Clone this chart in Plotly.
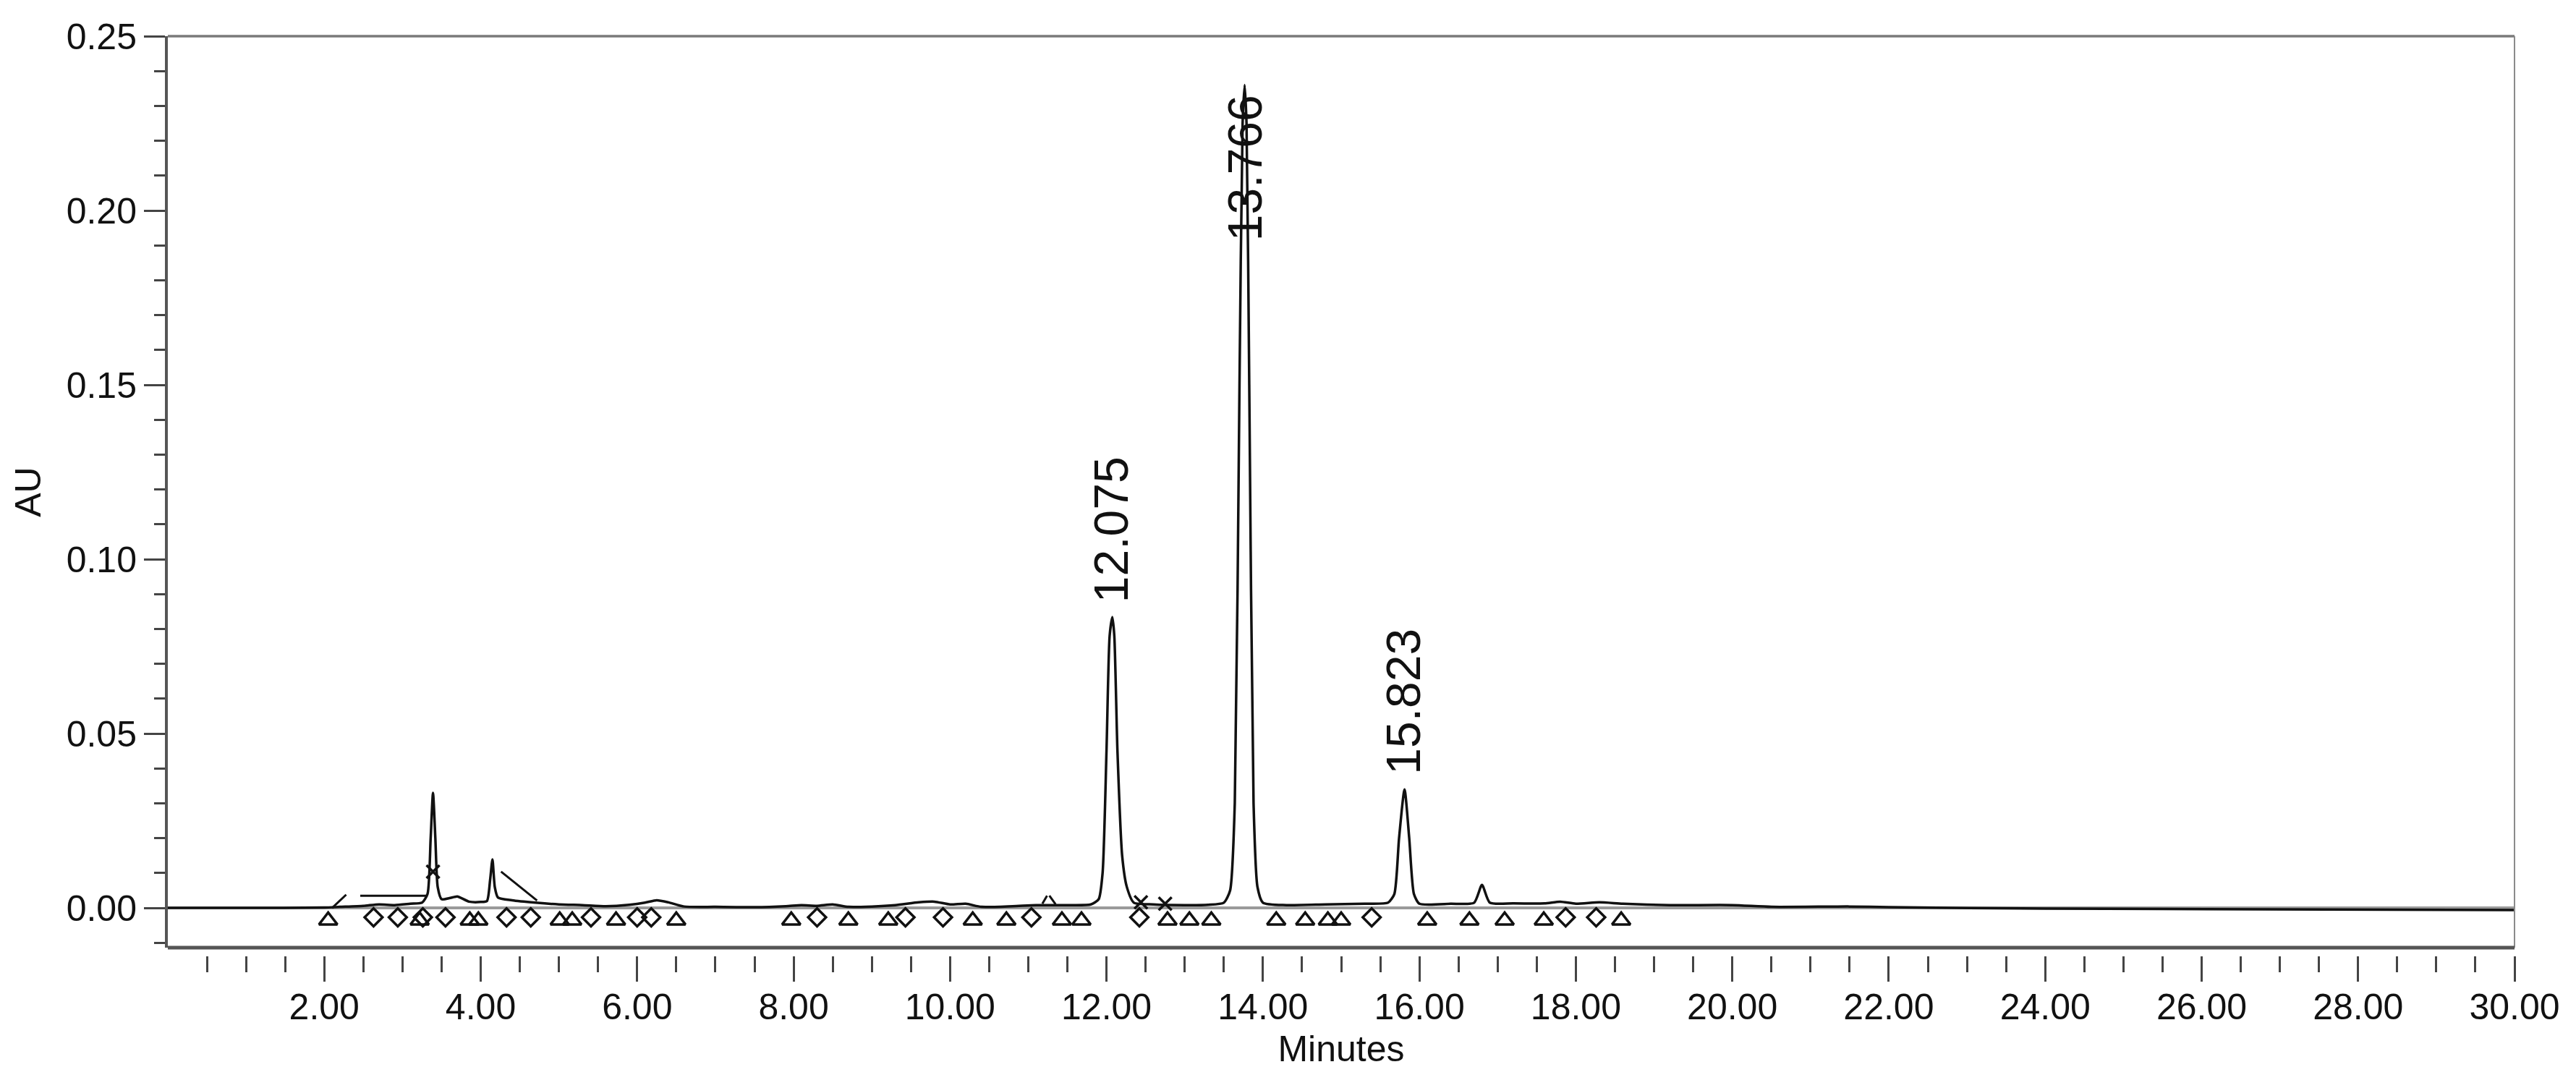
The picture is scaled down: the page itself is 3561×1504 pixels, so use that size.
import plotly.graph_objects as go

# chromatogram trace (minutes, AU)
minutes = [
    0.0, 1.0, 2.0, 2.2, 2.5, 2.7, 2.9, 3.1, 3.25, 3.32, 3.36, 3.39, 3.42, 3.45, 3.5,
    3.6, 3.7, 3.85, 4.0, 4.08, 4.12, 4.15, 4.18, 4.22, 4.4, 4.7, 5.0, 5.3, 5.6, 5.9,
    6.1, 6.25, 6.4, 6.6, 7.0, 7.5, 7.9, 8.1, 8.3, 8.5, 8.7, 9.0, 9.3, 9.6, 9.8,
    10.0, 10.2, 10.4, 10.8, 11.1, 11.5, 11.8, 11.9, 11.95, 12.0, 12.04, 12.075,
    12.1, 12.14, 12.2, 12.26, 12.35, 12.6, 13.0, 13.3, 13.5, 13.58, 13.64, 13.7,
    13.74, 13.766, 13.79, 13.825, 13.88, 13.93, 14.0, 14.3, 14.8, 15.3, 15.6, 15.68,
    15.74, 15.81, 15.87, 15.93, 16.0, 16.4, 16.7, 16.8, 16.9, 17.2, 17.6, 17.8,
    18.0, 18.3, 18.6, 19.2, 20.0, 20.5, 21.5, 22.0, 24.0, 25.5, 30.0,
]
absorbance = [
    0.0, 0.0, 0.0001, 0.0003, 0.0006, 0.001, 0.0008, 0.0012, 0.0015, 0.004, 0.02, 0.033, 0.02, 0.006, 0.0025,
    0.0028, 0.0033, 0.0018, 0.0017, 0.002, 0.008, 0.0139, 0.006, 0.003, 0.0022, 0.0015, 0.001, 0.0008, 0.0005, 0.0009,
    0.0015, 0.0022, 0.0016, 0.0004, 0.0003, 0.0002, 0.0005, 0.0008, 0.0006, 0.001, 0.0003, 0.0004, 0.0008, 0.0016, 0.0018,
    0.001, 0.0012, 0.0003, 0.0005, 0.0008, 0.0008, 0.001, 0.0025, 0.01, 0.045, 0.078, 0.0834,
    0.078, 0.045, 0.015, 0.006, 0.0015, 0.001, 0.0008, 0.0009, 0.0015, 0.005, 0.03, 0.15,
    0.225, 0.236, 0.225, 0.15, 0.03, 0.006, 0.0015, 0.0008, 0.001, 0.0012, 0.0015, 0.004,
    0.02, 0.034, 0.02, 0.004, 0.0012, 0.0012, 0.0015, 0.0066, 0.0015, 0.0013, 0.0013, 0.0018,
    0.0012, 0.0016, 0.0012, 0.0008, 0.0008, 0.0003, 0.0004, 0.0002, -0.0002, -0.0003, -0.0006,
]

# integration marks below the baseline
triangle_min = [2.05, 3.22, 3.86, 3.97, 5.01, 5.17, 5.73, 6.50, 7.97, 8.70, 9.21, 10.29, 10.72,
                11.43, 11.68, 12.78, 13.06, 13.34, 14.17, 14.54, 14.83, 15.00, 16.10, 16.64,
                17.09, 17.59, 18.58]
triangle_au = [-0.0036] * len(triangle_min)
diamond_min = [2.63, 2.94, 3.26, 3.55, 4.33, 4.64, 5.41, 6.00, 6.18, 8.30, 9.43, 9.91, 11.04,
               12.42, 15.39, 17.87, 18.26]
diamond_au = [-0.0027] * len(diamond_min)
cross_min = [3.39, 12.44, 12.75]
cross_au = [0.0104, 0.0016, 0.0012]

# short baseline projection segments (None separates them)
segment_min = [2.10, 2.28, None, 2.46, 3.32, None, 4.26, 4.72, None, 11.18, 11.24, None, 11.27, 11.35]
segment_au = [0.0, 0.0038, None, 0.0035, 0.0035, None, 0.0104, 0.0021, None, 0.0012, 0.0035, None, 0.0035, 0.001]

# peak labels
peak_names = ["12.075", "13.766", "15.823"]
peak_min = [12.06, 13.766, 15.80]
peak_label_au = [0.0834, 0.187, 0.034]

x_tick_vals = [2, 4, 6, 8, 10, 12, 14, 16, 18, 20, 22, 24, 26, 28, 30]
x_tick_text = ["2.00", "4.00", "6.00", "8.00", "10.00", "12.00", "14.00", "16.00",
               "18.00", "20.00", "22.00", "24.00", "26.00", "28.00", "30.00"]
y_tick_vals = [0.0, 0.05, 0.10, 0.15, 0.20, 0.25]
y_tick_text = ["0.00", "0.05", "0.10", "0.15", "0.20", "0.25"]

ink = "#111111"
font_family = "Liberation Sans, Arial, sans-serif"

fig = go.Figure()

fig.add_trace(go.Scatter(
    x=segment_min, y=segment_au, mode="lines",
    line=dict(color=ink, width=3), connectgaps=False, hoverinfo="skip",
))
fig.add_trace(go.Scatter(
    x=minutes, y=absorbance, mode="lines",
    line=dict(color=ink, width=3.5, shape="spline", smoothing=0.6),
))
fig.add_trace(go.Scatter(
    x=triangle_min, y=triangle_au, mode="markers",
    marker=dict(symbol="triangle-up-open", size=22, color=ink, line=dict(width=3.5)),
))
fig.add_trace(go.Scatter(
    x=diamond_min, y=diamond_au, mode="markers",
    marker=dict(symbol="diamond-open", size=19, color=ink, line=dict(width=3.5)),
))
fig.add_trace(go.Scatter(
    x=cross_min, y=cross_au, mode="markers",
    marker=dict(symbol="x-thin-open", size=18, color=ink, line=dict(width=3.5, color=ink)),
))

for name, px, py in zip(peak_names, peak_min, peak_label_au):
    fig.add_annotation(
        x=px, y=py, text=name, showarrow=False, textangle=-90,
        xanchor="center", yanchor="bottom", yshift=18,
        font=dict(size=66, color=ink, family=font_family),
    )

# frame around the plot
frame = [
    dict(x0=0, x1=1, y0=1, y1=1, color="#7a7a7a", width=3.5),
    dict(x0=1, x1=1, y0=0, y1=1, color="#8a8a8a", width=2),
    dict(x0=0, x1=1, y0=0, y1=0, color="#555555", width=5),
]
for f in frame:
    fig.add_shape(type="line", xref="x domain", yref="y domain",
                  x0=f["x0"], x1=f["x1"], y0=f["y0"], y1=f["y1"],
                  line=dict(color=f["color"], width=f["width"]))

fig.update_layout(
    width=3561, height=1504,
    margin=dict(l=224, r=93, t=42, b=191),
    paper_bgcolor="white", plot_bgcolor="white",
    showlegend=False,
    font=dict(family=font_family, size=50, color=ink),
    xaxis=dict(
        range=[0, 30], anchor="free", position=0,
        showline=False, showgrid=False, zeroline=False,
        tickmode="array", tickvals=x_tick_vals, ticktext=x_tick_text,
        ticks="outside", ticklen=35, tickwidth=2.5, tickcolor="#444",
        minor=dict(tickmode="array", tickvals=[i * 0.5 for i in range(1, 60)],
                   ticks="outside", ticklen=22, tickwidth=2.5, tickcolor="#444"),
        tickfont=dict(size=50), ticklabelstandoff=-8,
        title=dict(text="Minutes", font=dict(size=50), standoff=12),
    ),
    yaxis=dict(
        range=[-0.0114, 0.25], domain=[0.00865, 1],
        showline=True, linecolor="#555555", linewidth=4,
        showgrid=False, zeroline=True, zerolinecolor="#9a9a9a", zerolinewidth=4,
        tickmode="array", tickvals=y_tick_vals, ticktext=y_tick_text,
        ticks="outside", ticklen=29, tickwidth=3, tickcolor="#444",
        minor=dict(dtick=0.01, tick0=0, ticks="outside", ticklen=15, tickwidth=3, tickcolor="#444"),
        tickfont=dict(size=50),
        title=dict(text="AU", font=dict(size=50), standoff=20),
    ),
)

fig.write_html("out.html")
